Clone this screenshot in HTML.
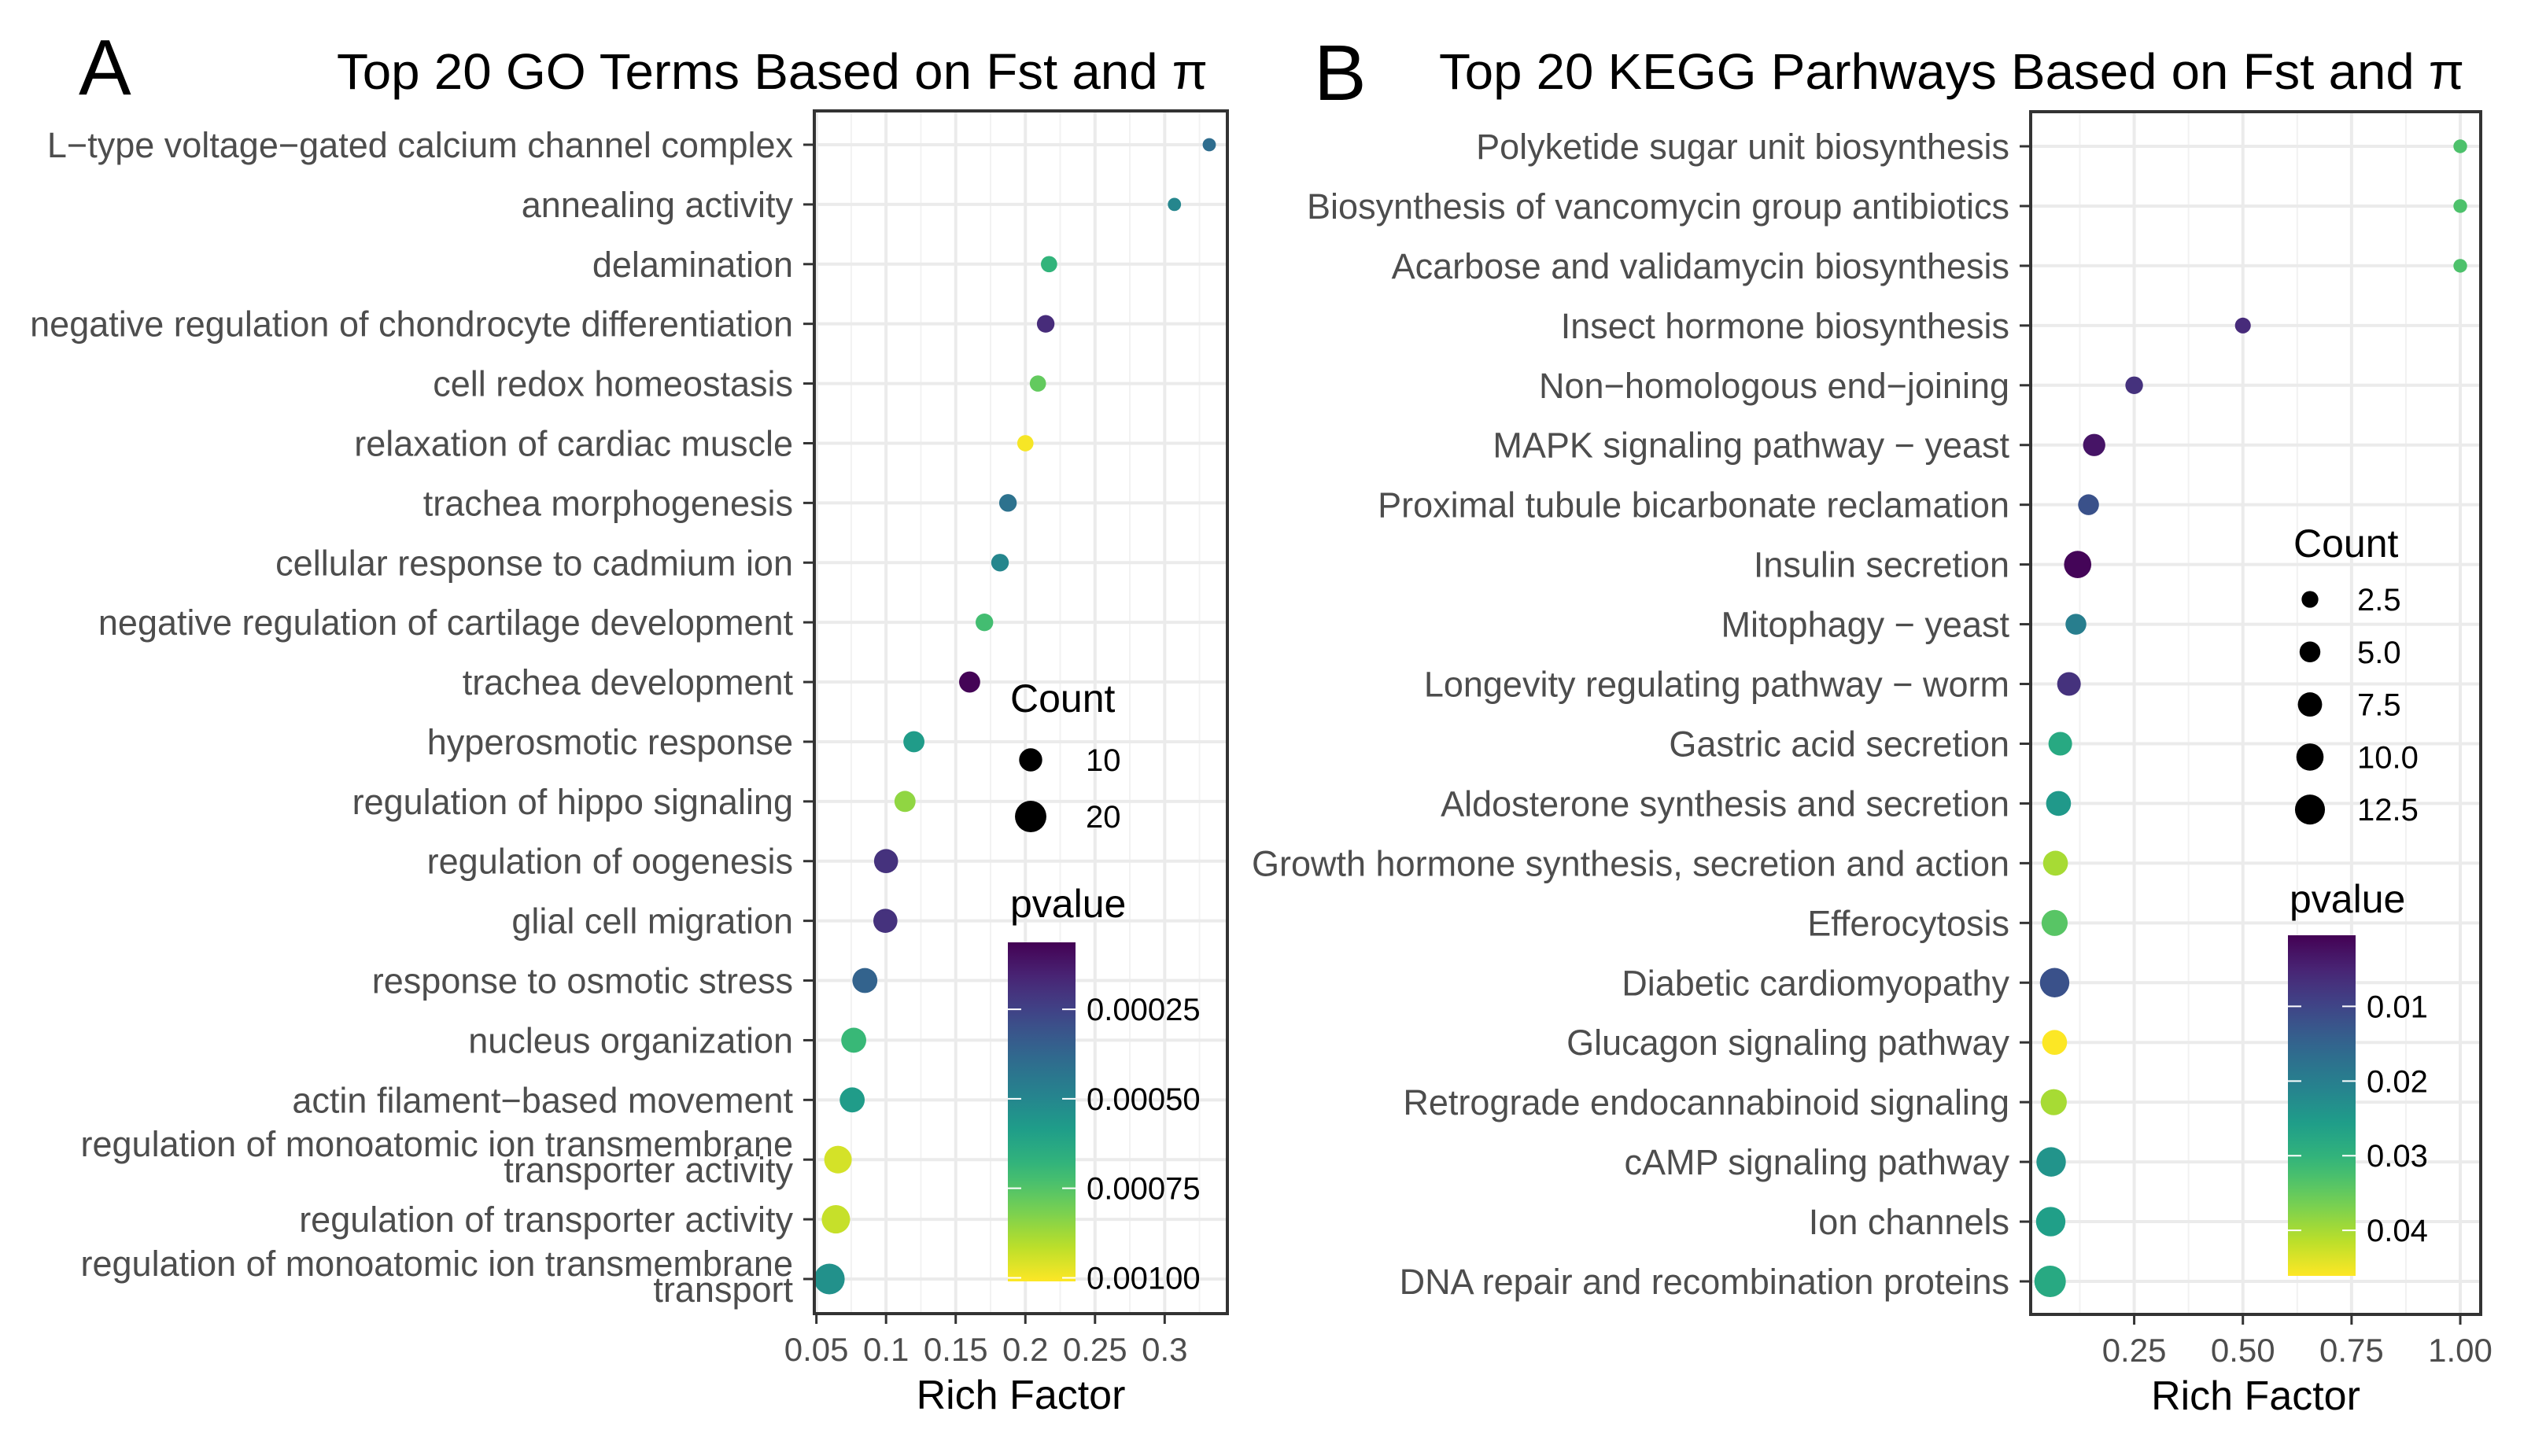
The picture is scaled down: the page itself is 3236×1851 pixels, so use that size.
<!DOCTYPE html>
<html><head><meta charset="utf-8"><style>
html,body{margin:0;padding:0;background:#fff;}
svg{display:block;font-family:"Liberation Sans",Arial,sans-serif;}
</style></head><body>
<svg id="fig" width="3236" height="1851" viewBox="0 0 3236 1851" xmlns="http://www.w3.org/2000/svg">
<rect width="3236" height="1851" fill="#fff"/>
<text x="100" y="120" font-size="100">A</text>
<text x="428" y="113" font-size="64" textLength="1107" lengthAdjust="spacingAndGlyphs">Top 20 GO Terms Based on Fst and π</text>
<text x="1670" y="127" font-size="100">B</text>
<text x="1829" y="113" font-size="64" textLength="1303" lengthAdjust="spacingAndGlyphs">Top 20 KEGG Parhways Based on Fst and π</text>
<g id="pa"></g>
<g id="pb"></g>
</svg>
<script>
// ---- Panel A data ----
const goTerms = ["L\u2212type voltage\u2212gated calcium channel complex","annealing activity","delamination","negative regulation of chondrocyte differentiation","cell redox homeostasis","relaxation of cardiac muscle","trachea morphogenesis","cellular response to cadmium ion","negative regulation of cartilage development","trachea development","hyperosmotic response","regulation of hippo signaling","regulation of oogenesis","glial cell migration","response to osmotic stress","nucleus organization","actin filament\u2212based movement","regulation of monoatomic ion transmembrane|transporter activity","regulation of transporter activity","regulation of monoatomic ion transmembrane|transport"];
const goRich = [0.332,0.307,0.217,0.2146,0.209,0.200,0.1875,0.1818,0.1706,0.160,0.120,0.1136,0.100,0.0995,0.0848,0.0768,0.0757,0.0655,0.064,0.0593];
const goCount = [2,2,4,5,4,4,5,5,5,8,8,8,11,11,12,12,12,15,16,19];
const goP = [0.00040,0.00050,0.00068,0.00018,0.00078,0.00100,0.00042,0.00050,0.00072,0.00007,0.00058,0.00085,0.00020,0.00020,0.00036,0.00070,0.00058,0.00095,0.00093,0.00054];
const goXTicks = [0.05,0.1,0.15,0.2,0.25,0.3];
const goXTickLabels = ["0.05","0.1","0.15","0.2","0.25","0.3"];
const goSizeBreaks = [10,20];
const goPBreaks = [0.00025,0.0005,0.00075,0.001];
const goPLabels = ["0.00025","0.00050","0.00075","0.00100"];
// ---- Panel B data ----
const keggTerms = ["Polyketide sugar unit biosynthesis","Biosynthesis of vancomycin group antibiotics","Acarbose and validamycin biosynthesis","Insect hormone biosynthesis","Non\u2212homologous end\u2212joining","MAPK signaling pathway \u2212 yeast","Proximal tubule bicarbonate reclamation","Insulin secretion","Mitophagy \u2212 yeast","Longevity regulating pathway \u2212 worm","Gastric acid secretion","Aldosterone synthesis and secretion","Growth hormone synthesis, secretion and action","Efferocytosis","Diabetic cardiomyopathy","Glucagon signaling pathway","Retrograde endocannabinoid signaling","cAMP signaling pathway","Ion channels","DNA repair and recombination proteins"];
const keggRich = [1.0,1.0,1.0,0.5,0.25,0.158,0.145,0.12,0.116,0.1,0.08,0.076,0.069,0.067,0.067,0.067,0.065,0.059,0.058,0.0566];
const keggCount = [1,1,1,2,3,6,5,10,5,7,7,8,8,9,12,8,9,12,12,14];
const keggP = [0.033,0.033,0.033,0.006,0.007,0.003,0.012,0.001,0.020,0.007,0.028,0.025,0.040,0.034,0.012,0.046,0.040,0.024,0.026,0.028];
const keggXTicks = [0.25,0.5,0.75,1.0];
const keggXTickLabels = ["0.25","0.50","0.75","1.00"];
const keggSizeBreaks = [2.5,5,7.5,10,12.5];
const keggSizeLabels = ["2.5","5.0","7.5","10.0","12.5"];
const keggPBreaks = [0.01,0.02,0.03,0.04];
const keggPLabels = ["0.01","0.02","0.03","0.04"];

const NS="http://www.w3.org/2000/svg";
const VIR=["#440154","#482878","#3e4989","#31688e","#26828e","#1f9e89","#35b779","#6ece58","#b5de2b","#fde725"];
function hex(h){return [1,3,5].map(i=>parseInt(h.substr(i,2),16));}
function viridis(t){t=Math.max(0,Math.min(1,t));const s=t*(VIR.length-1),i=Math.min(Math.floor(s),VIR.length-2),f=s-i;const a=hex(VIR[i]),b=hex(VIR[i+1]);return "rgb("+a.map((v,k)=>Math.round(v+(b[k]-v)*f)).join(",")+")";}
function mk(parent,tag,attrs,txt){const e=document.createElementNS(NS,tag);for(const k in attrs)e.setAttribute(k,attrs[k]);if(txt!==undefined)e.textContent=txt;parent.appendChild(e);return e;}

function draw(g,cfg){
  const {L,R,T,B,x0,x1,y0,y1,terms,rich,count,pv,ticks,tickLabels,cmin,cmax,rmin,rmax,pmin,pmax,minor}=cfg;
  const xs=v=>L+(v-x0)/(x1-x0)*(R-L);
  const ys=i=>y0+i*(y1-y0)/(terms.length-1);
  const rs=c=>Math.sqrt(rmin*rmin+(rmax*rmax-rmin*rmin)*(c-cmin)/(cmax-cmin));
  const cs=p=>viridis((p-pmin)/(pmax-pmin));
  mk(g,"rect",{x:L,y:T,width:R-L,height:B-T,fill:"#fff"});
  minor.forEach(v=>{const l=mk(g,"line",{x1:xs(v),x2:xs(v),y1:T,y2:B,stroke:"#f2f2f2","stroke-width":2});
    
    });
  ticks.forEach((v,i)=>{const l=mk(g,"line",{x1:xs(v),x2:xs(v),y1:T,y2:B,stroke:"#ebebeb","stroke-width":4});
    
    
    mk(g,"line",{x1:xs(v),x2:xs(v),y1:B,y2:B+13,stroke:"#333","stroke-width":3});
    const t=mk(g,"text",{x:xs(v),y:B+60,"font-size":42,fill:"#4d4d4d","text-anchor":"middle"},tickLabels[i]);
    
    });
  terms.forEach((name,i)=>{const y=ys(i);
    const l=mk(g,"line",{x1:L,x2:R,y1:y,y2:y,stroke:"#ebebeb","stroke-width":4});
    
    
    mk(g,"line",{x1:L-14,x2:L,y1:y,y2:y,stroke:"#333","stroke-width":3});
    const parts=name.split("|");
    const t=mk(g,"text",{x:L-27,"font-size":45,fill:"#4d4d4d","text-anchor":"end"});
    
    
    if(parts.length==1){t.setAttribute("y",y+16);t.textContent=name;}
    else{mk(t,"tspan",{x:L-27,y:y-4},parts[0]);mk(t,"tspan",{x:L-27,y:y+29},parts[1]);}
  });
  terms.forEach((name,i)=>{const c=mk(g,"circle",{cx:xs(rich[i]),cy:ys(i),r:rs(count[i]),fill:cs(pv[i])});
    
    });
  mk(g,"rect",{x:L,y:T,width:R-L,height:B-T,fill:"none",stroke:"#333","stroke-width":4});
  const xt=mk(g,"text",{x:(L+R)/2,y:B+121,"font-size":52,fill:"#000","text-anchor":"middle"},"Rich Factor");
  
  
  return {rs,cs};
}
function legend(g,f,cfg){
  const ct=mk(g,"text",{x:cfg.cx,y:cfg.cy,"font-size":50},"Count");
  
  
  cfg.sizeBreaks.forEach((v,i)=>{const y=cfg.sy[0]+i*cfg.sdy;
    const c=mk(g,"circle",{cx:cfg.dotx,cy:y,r:f.rs(v),fill:"#000"});
    
    
    const t=mk(g,"text",{x:cfg.lx,y:y+14,"font-size":40},cfg.sizeLabels[i]);
    
    });
  const pt=mk(g,"text",{x:cfg.px,y:cfg.py,"font-size":50},"pvalue");
  
  
  const id="grad"+cfg.id;const defs=mk(g,"defs",{});const lg=mk(defs,"linearGradient",{id:id,x1:0,y1:0,x2:0,y2:1});
  for(let k=0;k<=20;k++){const p=cfg.pTop+(cfg.pBot-cfg.pTop)*k/20;mk(lg,"stop",{offset:k/20,"stop-color":f.cs(p)});}
  const bar=mk(g,"rect",{x:cfg.bx,y:cfg.bt,width:cfg.bw,height:cfg.bb-cfg.bt,fill:"url(#"+id+")"});
  
  
  const py=p=>cfg.bt+(p-cfg.pTop)/(cfg.pBot-cfg.pTop)*(cfg.bb-cfg.bt);
  cfg.pBreaks.forEach((p,i)=>{const y=py(p);
    mk(g,"line",{x1:cfg.bx,x2:cfg.bx+17,y1:y,y2:y,stroke:"#fff","stroke-width":2});
    mk(g,"line",{x1:cfg.bx+cfg.bw-17,x2:cfg.bx+cfg.bw,y1:y,y2:y,stroke:"#fff","stroke-width":2});
    const t=mk(g,"text",{x:cfg.bx+cfg.bw+14,y:y+14,"font-size":40},cfg.pLabels[i]);
    
    });
}
const ga=document.getElementById("pa");
const fa=draw(ga,{L:1035,R:1560,T:141,B:1670,x0:0.0485,x1:0.345,y0:184,y1:1626,terms:goTerms,rich:goRich,count:goCount,pv:goP,ticks:goXTicks,tickLabels:goXTickLabels,cmin:2,cmax:19,rmin:8.4,rmax:19.5,pmin:0.000063,pmax:0.00101,minor:[0.075,0.125,0.175,0.225,0.275,0.325]});
legend(ga,fa,{id:"a",cx:1284,cy:905,sizeBreaks:goSizeBreaks,sizeLabels:["10","20"],sy:[966],sdy:72,dotx:1310,lx:1380,px:1284,py:1166,bx:1281,bw:86,bt:1198,bb:1629,pTop:0.000063,pBot:0.00101,pBreaks:goPBreaks,pLabels:goPLabels});
const gb=document.getElementById("pb");
const fb=draw(gb,{L:2581,R:3153,T:142,B:1671,x0:0.0119,x1:1.047,y0:186,y1:1629,terms:keggTerms,rich:keggRich,count:keggCount,pv:keggP,ticks:keggXTicks,tickLabels:keggXTickLabels,cmin:1,cmax:14,rmin:8.7,rmax:20,pmin:0.00047,pmax:0.0461,minor:[0.125,0.375,0.625,0.875]});
legend(gb,fb,{id:"b",cx:2915,cy:708,sizeBreaks:keggSizeBreaks,sizeLabels:keggSizeLabels,sy:[762],sdy:66.8,dotx:2936,lx:2996,px:2910,py:1160,bx:2908,bw:86,bt:1189,bb:1622,pTop:0.00047,pBot:0.0461,pBreaks:keggPBreaks,pLabels:keggPLabels});
</script>
</body></html>
